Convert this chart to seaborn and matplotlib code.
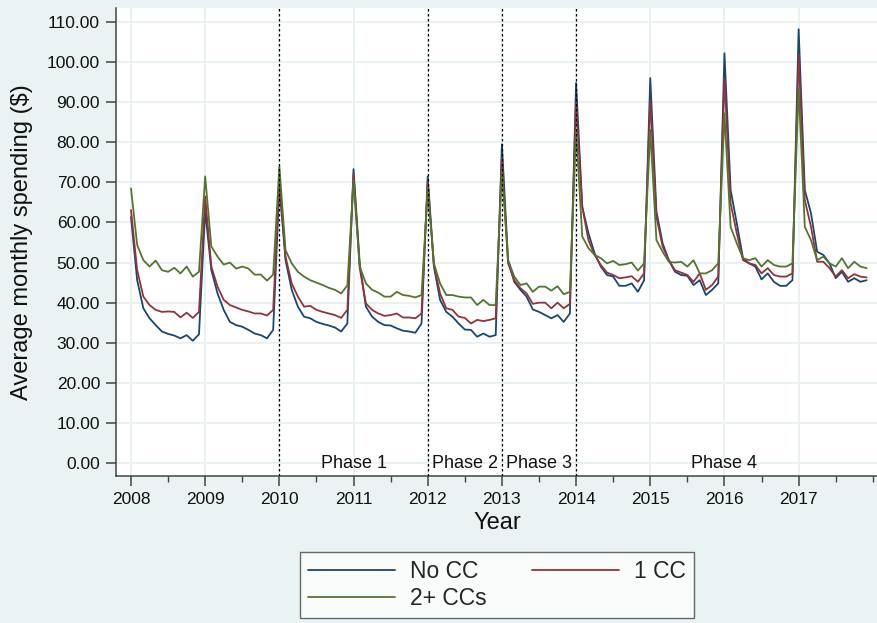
import numpy as np
import pandas as pd
import seaborn as sns
import matplotlib.pyplot as plt
from matplotlib.ticker import FormatStrFormatter, MultipleLocator
from matplotlib.lines import Line2D

years = list(range(2008, 2018))
year_labels = [str(y) for y in years]
series_names = ["No CC", "1 CC", "2+ CCs"]
phase_labels = ["Phase 1", "Phase 2", "Phase 3", "Phase 4"]
phase_pos = [2011, 2012.5, 2013.5, 2016]
phase_breaks = [2010, 2012, 2013, 2014]

# monthly averages, Jan 2008 .. Dec 2017
no_cc = [
    61.4, 45.6, 38.6, 36.1, 34.4, 32.8, 32.2, 31.8, 31.1, 31.9, 30.5, 32.1,
    63.0, 48.1, 42.3, 38.2, 35.2, 34.4, 34.0, 33.2, 32.3, 31.9, 31.1, 33.2,
    69.0, 50.6, 43.2, 39.0, 36.5, 36.1, 35.2, 34.7, 34.3, 33.8, 32.8, 34.8,
    73.3, 49.8, 39.0, 36.5, 35.2, 34.4, 34.3, 33.6, 33.0, 32.8, 32.5, 34.8,
    71.5, 49.0, 40.7, 37.7, 36.5, 34.8, 33.3, 33.2, 31.5, 32.3, 31.5, 31.9,
    79.5, 50.6, 45.2, 43.2, 41.5, 38.3, 37.7, 36.9, 36.1, 36.9, 35.2, 37.3,
    94.8, 63.9, 57.3, 52.3, 49.0, 46.9, 46.5, 44.2, 44.2, 44.8, 42.7, 45.6,
    96.0, 62.7, 54.8, 50.6, 47.7, 46.9, 46.7, 44.4, 45.6, 41.9, 43.2, 44.8,
    102.2, 68.1, 59.8, 51.1, 49.8, 49.0, 45.8, 47.3, 45.2, 44.2, 44.2, 45.6,
    108.2, 68.1, 62.3, 52.7, 51.9, 49.8, 46.1, 47.7, 45.2, 46.1, 45.2, 45.6,
]
one_cc = [
    63.1, 48.1, 41.5, 39.4, 38.2, 37.7, 37.8, 37.7, 36.3, 37.5, 36.2, 37.7,
    66.5, 49.0, 44.0, 40.7, 39.4, 38.8, 38.2, 37.8, 37.3, 37.3, 36.8, 38.2,
    71.0, 51.5, 44.8, 41.5, 39.0, 39.2, 38.2, 37.7, 37.3, 36.9, 36.2, 38.2,
    72.0, 48.6, 39.8, 38.2, 37.3, 36.7, 36.9, 37.3, 36.3, 36.3, 36.1, 37.3,
    70.0, 49.4, 42.3, 38.6, 38.2, 36.5, 36.2, 34.8, 35.7, 35.4, 35.7, 36.1,
    76.0, 49.8, 45.6, 43.6, 42.3, 39.7, 40.0, 40.0, 38.6, 40.0, 38.6, 39.7,
    90.1, 63.9, 55.6, 51.9, 49.4, 47.5, 46.9, 46.1, 46.3, 46.6, 45.2, 47.3,
    90.5, 61.4, 54.0, 50.6, 48.1, 47.5, 46.9, 45.2, 47.3, 43.2, 44.4, 46.5,
    96.0, 64.8, 57.3, 50.6, 49.8, 49.4, 47.3, 48.6, 46.9, 46.5, 46.5, 47.3,
    101.8, 65.6, 58.9, 50.2, 50.2, 48.6, 46.5, 48.1, 46.1, 47.1, 46.5, 46.3,
]
two_cc = [
    68.5, 54.4, 50.6, 49.0, 50.5, 48.1, 47.7, 48.7, 47.3, 49.0, 46.5, 47.7,
    71.5, 54.0, 51.5, 49.5, 50.0, 48.5, 49.0, 48.5, 47.0, 47.0, 45.5, 47.0,
    74.0, 53.1, 49.8, 47.7, 46.5, 45.6, 45.0, 44.4, 43.7, 43.2, 42.3, 44.3,
    70.5, 49.0, 44.8, 43.2, 42.5, 41.5, 41.5, 42.7, 41.9, 41.7, 41.3, 41.9,
    68.5, 49.8, 44.8, 41.9, 41.9, 41.5, 41.3, 41.3, 39.4, 40.7, 39.4, 39.4,
    73.0, 50.6, 46.5, 44.4, 44.8, 42.7, 44.0, 44.0, 43.0, 44.1, 42.1, 42.7,
    83.1, 56.5, 53.6, 51.9, 51.1, 49.8, 50.4, 49.4, 49.6, 50.0, 48.0, 49.8,
    83.1, 55.6, 52.7, 50.2, 50.0, 50.2, 49.0, 50.6, 47.3, 47.3, 48.1, 49.8,
    87.2, 58.9, 54.8, 51.1, 50.6, 51.1, 49.0, 50.6, 49.4, 49.0, 49.0, 49.8,
    93.5, 58.9, 55.6, 50.6, 51.5, 49.8, 49.0, 51.1, 48.6, 50.2, 49.0, 48.6,
]

months = [y + m / 12 for y in years for m in range(12)]
df = pd.DataFrame({
    "time": months * 3,
    "spend": no_cc + one_cc + two_cc,
    "group": [series_names[0]] * 120 + [series_names[1]] * 120 + [series_names[2]] * 120,
})

bg = "#EAF2F3"
colors = ["#1A476F", "#90353B", "#55752F"]

sns.set_theme(style="white")
plt.rcParams["font.family"] = ["Liberation Sans", "DejaVu Sans"]

fig = plt.figure(figsize=(8.78, 6.23), dpi=100, facecolor=bg)
ax = fig.add_axes([116 / 878, 147 / 623, 762 / 878, 468 / 623])
ax.set_facecolor("white")

sns.lineplot(data=df, x="time", y="spend", hue="group", palette=colors,
             linewidth=1.3, ax=ax, legend=False)

for b in phase_breaks:
    ax.axvline(b, color="black", linestyle=(0, (2, 2)), linewidth=0.9, zorder=3)
for lab, xp in zip(phase_labels, phase_pos):
    ax.text(xp, 0, lab, ha="center", va="center", fontsize=13, color="#111111")

ax.set_xlim(2007.798, 2018.07)
ax.set_ylim(-3.24, 113.5)
ax.set_xticks(years)
ax.set_xticklabels(year_labels)
ax.xaxis.set_minor_locator(MultipleLocator(0.5))
ax.set_yticks(np.arange(0, 111, 10))
ax.yaxis.set_major_formatter(FormatStrFormatter("%.2f"))
ax.grid(True, which="major", color="#E8F0F2", linewidth=1.3)
ax.set_axisbelow(True)

for s in ["top", "right"]:
    ax.spines[s].set_visible(False)
for s in ["left", "bottom"]:
    ax.spines[s].set_color("#444444")
    ax.spines[s].set_linewidth(1.1)

ax.tick_params(axis="both", which="major", length=7, width=1.1, color="#444444",
               labelsize=12.5, labelcolor="#111111", pad=4.5, bottom=True, left=True)
ax.tick_params(axis="x", which="minor", length=4, width=1.0, color="#444444", bottom=True)

ax.set_xlabel("Year", fontsize=17, color="#111111")
ax.set_ylabel("Average monthly spending ($)", fontsize=17, color="#111111")
ax.xaxis.set_label_coords(0.5, -0.077)
ax.yaxis.set_label_coords(-0.109, 0.5)

# row-wise legend order: No CC, 1 CC / 2+ CCs
order = [0, 2, 1]
handles = [Line2D([0], [0], color=colors[i], linewidth=1.3) for i in order]
labels = [series_names[i] for i in order]
leg = fig.legend(handles, labels, loc="center", bbox_to_anchor=(0.566, 0.061),
                 ncol=2, fontsize=16.5, frameon=True, fancybox=False,
                 handlelength=3.8, columnspacing=1.95, handletextpad=0.65,
                 borderpad=0.35, labelspacing=0.2)
leg.get_frame().set_edgecolor("#444444")
leg.get_frame().set_linewidth(1.0)
leg.get_frame().set_facecolor("white")

fig.savefig("out.png", dpi=100, facecolor=bg)
